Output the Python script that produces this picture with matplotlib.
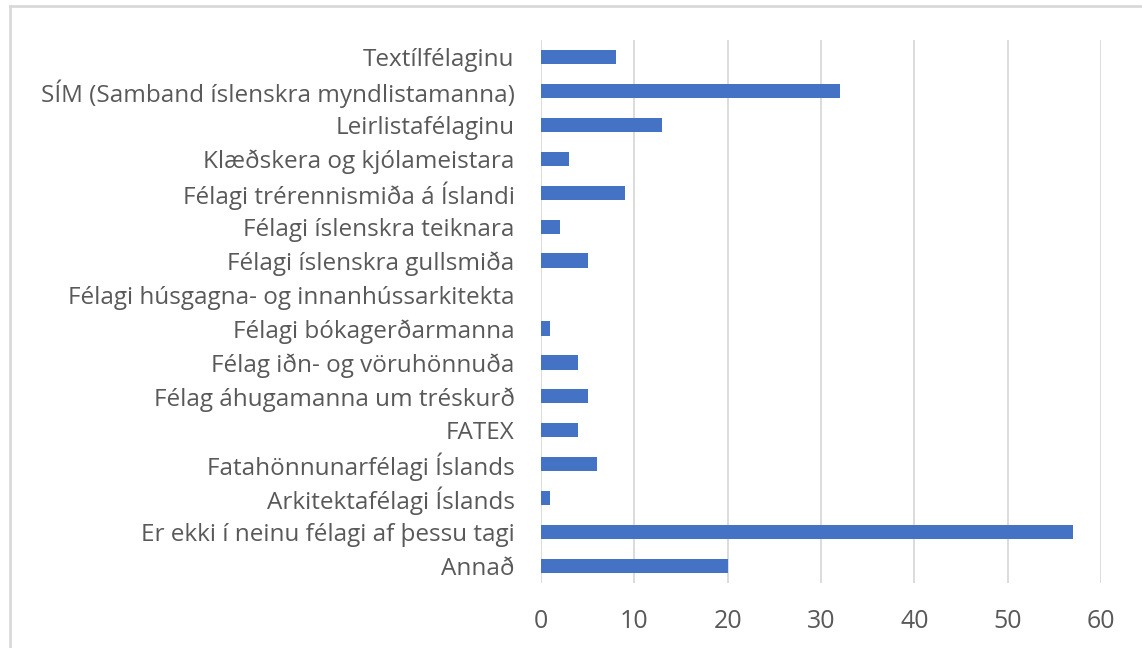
import matplotlib as mpl
mpl.use('Agg')
import matplotlib.pyplot as plt
from matplotlib.lines import Line2D

# categories listed top to bottom as in the chart
categories = ['Textílfélaginu',
              'SÍM (Samband íslenskra myndlistamanna)',
              'Leirlistafélaginu',
              'Klæðskera og kjólameistara',
              'Félagi trérennismiða á Íslandi',
              'Félagi íslenskra teiknara',
              'Félagi íslenskra gullsmiða',
              'Félagi húsgagna- og innanhússarkitekta',
              'Félagi bókagerðarmanna',
              'Félag iðn- og vöruhönnuða',
              'Félag áhugamanna um tréskurð',
              'FATEX',
              'Fatahönnunarfélagi Íslands',
              'Arkitektafélagi Íslands',
              'Er ekki í neinu félagi af þessu tagi',
              'Annað']
values = [8, 32, 13, 3, 9, 2, 5, 0, 1, 4, 5, 4, 6, 1, 57, 20]
xticks = [0, 10, 20, 30, 40, 50, 60]

plt.rcParams['font.family'] = ['Open Sans', 'DejaVu Sans']
textcol = '#595959'

fig = plt.figure(figsize=(11.42, 6.48), dpi=100)
ax = fig.add_axes([541/1142, 1-583/648, 560/1142, 543/648])

pos = list(range(len(categories)))[::-1]
ax.barh(pos, values, height=0.42, color='#4472C4', zorder=3)

ax.set_xlim(0, 60)
ax.set_ylim(-0.5, len(categories)-0.5)
ax.set_xticks(xticks)
ax.set_yticks(pos)
ax.set_yticklabels(categories)
ax.tick_params(axis='both', length=0, colors=textcol)
ax.tick_params(axis='y', pad=19, labelsize=17.5)
ax.tick_params(axis='x', pad=19, labelsize=18)
ax.grid(axis='x', color='#D9D9D9', linewidth=1.3, zorder=0)
for s in ax.spines.values():
    s.set_visible(False)

# light frame around the chart
fig.add_artist(Line2D([10/1142, 10/1142], [0, 1-6/648], transform=fig.transFigure, color='#D9D9D9', lw=2))
fig.add_artist(Line2D([10/1142, 1], [1-6/648, 1-6/648], transform=fig.transFigure, color='#D9D9D9', lw=2))

fig.savefig('out.png')
